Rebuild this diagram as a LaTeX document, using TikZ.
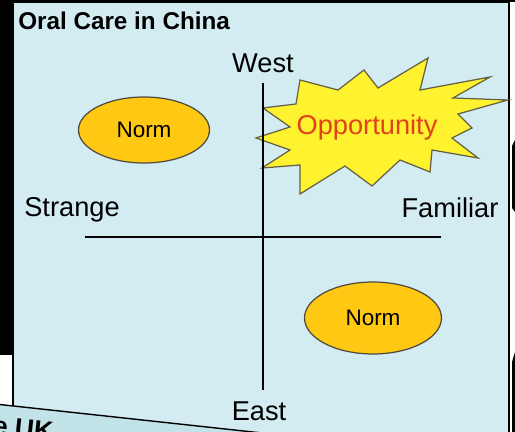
\documentclass[tikz,border=0pt]{standalone}
\usepackage{fontspec}
\setmainfont{Liberation Sans}
\usetikzlibrary{shapes.geometric}

\definecolor{panelblue}{HTML}{D3ECF1}
\definecolor{normfill}{HTML}{FFC812}
\definecolor{burstfill}{HTML}{FFF22E}
\definecolor{opptext}{HTML}{E2421B}

\tikzset{
  axislabel/.style={font=\fontsize{15.5}{18}\selectfont, inner sep=0pt},
  normblob/.style={ellipse, draw=black!80!yellow, fill=normfill, line width=0.7pt,
    inner sep=0pt, font=\fontsize{12.8}{15}\selectfont},
  axisline/.style={line width=1.7pt},
}

\begin{document}
\begin{tikzpicture}[x=0.02cm,y=-0.02cm]
  \useasboundingbox (0,0) rectangle (515,432);
  \clip (0,0) rectangle (515,432);
  \fill[white] (0,0) rectangle (515,432);
  % dark screen edges
  \fill[black] (0,0) rectangle (13,355);
  \fill[black] (0,0) rectangle (515,2);
  \fill[black] (512,146) -- (515,140) -- (515,212) -- (512,208) -- cycle;
  \fill[black] (512,362) -- (515,352) -- (515,432) -- (512,432) -- cycle;

  % slide panel
  \filldraw[fill=panelblue, draw=black, line width=1pt] (13,2) rectangle (509,450);
  \node[anchor=west, inner sep=0pt, font=\bfseries\fontsize{13.8}{16}\selectfont] (title) at (18,21) {Oral Care in China};

  % burst behind the axis
  \filldraw[fill=burstfill, draw=black!70!yellow, line width=0.7pt, line join=miter]
    plot coordinates {(263,108) (296,104) (300,80) (338,90) (364,70) (378,88)
      (428,58) (420,90) (490,77) (453,98) (508,100) (458,114) (472,128) (452,138)
      (478,158) (432,150) (430,172) (400,160) (372,186) (345,166) (300,194)
      (300,165) (262,168) (290,150) (256,138) (290,127)} -- cycle;
  \node[font=\fontsize{15.5}{18}\selectfont, text=opptext, inner sep=0pt] (opp) at (367,127) {Opportunity};

  % axes
  \coordinate (top) at (263,83);
  \coordinate (bottom) at (263,390);
  \coordinate (left) at (85,237);
  \coordinate (right) at (441,237);
  \draw[axisline] (top) -- (bottom);
  \draw[axisline] (left) -- (right);

  \node[axislabel] (west) at (263,63) {West};
  \node[axislabel] (east) at (259,411) {East};
  \node[axislabel] (strange) at (72,210) {Strange};
  \node[axislabel] (familiar) at (450,208) {Familiar};

  \node[normblob, minimum width=2.62cm, minimum height=1.32cm] (norm1) at (144,130) {Norm};
  \node[normblob, minimum width=2.74cm, minimum height=1.44cm] (norm2) at (373,318) {Norm};

  % corner of the next slide
  \filldraw[fill=panelblue!92!teal, draw=black, line width=0.8pt] (-5,404) -- (262,433) -- (-5,440) -- cycle;
  \node[anchor=north west, inner sep=0pt, rotate=-6, font=\bfseries\fontsize{15}{18}\selectfont] (uk) at (-6,416) {e UK};
\end{tikzpicture}
\end{document}
